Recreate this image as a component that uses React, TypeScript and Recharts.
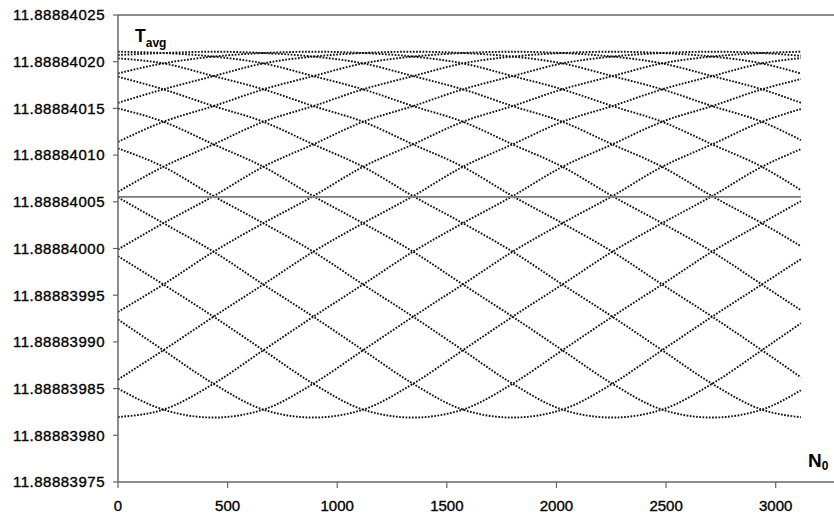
import { Line, LineChart, ReferenceLine, XAxis, YAxis } from "recharts";

// N0 positions where the curves were read (lattice columns of the crossings)
const N0 = [0, 207, 436, 663, 891, 1118, 1346, 1573, 1800, 2027, 2255, 2482, 2710, 2937, 3115];

// T_avg of each curve, in units of 1e-8 above 11.888839
const T01 = [121.07, 120.93, 120.55, 119.82, 118.46, 117.04, 115.25, 113.57, 111.15, 108.75, 105.61, 102.71, 99.66, 96.15, 93.39];
const T02 = [120.36, 119.82, 118.46, 117.04, 115.25, 113.57, 111.15, 108.75, 105.61, 102.71, 99.66, 96.15, 92.7, 89.11, 86.21];
const T03 = [118.39, 117.04, 115.25, 113.57, 111.15, 108.75, 105.61, 102.71, 99.66, 96.15, 92.7, 89.11, 85.52, 82.75, 81.93];
const T04 = [115.0, 113.57, 111.15, 108.75, 105.61, 102.71, 99.66, 96.15, 92.7, 89.11, 85.52, 82.75, 81.9, 82.75, 84.82];
const T05 = [110.72, 108.75, 105.61, 102.71, 99.66, 96.15, 92.7, 89.11, 85.52, 82.75, 81.9, 82.75, 85.52, 89.11, 92.0];
const T06 = [105.47, 102.71, 99.66, 96.15, 92.7, 89.11, 85.52, 82.75, 81.9, 82.75, 85.52, 89.11, 92.7, 96.15, 98.86];
const T07 = [99.18, 96.15, 92.7, 89.11, 85.52, 82.75, 81.9, 82.75, 85.52, 89.11, 92.7, 96.15, 99.66, 102.71, 105.07];
const T08 = [92.4, 89.11, 85.52, 82.75, 81.9, 82.75, 85.52, 89.11, 92.7, 96.15, 99.66, 102.71, 105.61, 108.75, 110.64];
const T09 = [85.0, 82.75, 81.9, 82.75, 85.52, 89.11, 92.7, 96.15, 99.66, 102.71, 105.61, 108.75, 111.15, 113.57, 114.93];
const T10 = [81.96, 82.75, 85.52, 89.11, 92.7, 96.15, 99.66, 102.71, 105.61, 108.75, 111.15, 113.57, 115.25, 117.04, 118.14];
const T11 = [85.97, 89.11, 92.7, 96.15, 99.66, 102.71, 105.61, 108.75, 111.15, 113.57, 115.25, 117.04, 118.46, 119.82, 120.39];
const T12 = [93.21, 96.15, 99.66, 102.71, 105.61, 108.75, 111.15, 113.57, 115.25, 117.04, 118.46, 119.82, 120.55, 120.93, 121.07];
const T13 = [99.9, 102.71, 105.61, 108.75, 111.15, 113.57, 115.25, 117.04, 118.46, 119.82, 120.55, 120.93, 121.07, 120.93, 120.63];
const T14 = [106.07, 108.75, 111.15, 113.57, 115.25, 117.04, 118.46, 119.82, 120.55, 120.93, 121.07, 120.93, 120.55, 119.82, 118.73];
const T15 = [111.42, 113.57, 115.25, 117.04, 118.46, 119.82, 120.55, 120.93, 121.07, 120.93, 120.55, 119.82, 118.46, 117.04, 115.6];
const T16 = [115.6, 117.04, 118.46, 119.82, 120.55, 120.93, 121.07, 120.93, 120.55, 119.82, 118.46, 117.04, 115.25, 113.57, 111.61];
const T17 = [118.75, 119.82, 120.55, 120.93, 121.07, 120.93, 120.55, 119.82, 118.46, 117.04, 115.25, 113.57, 111.15, 108.75, 106.25];
const T18 = [120.71, 120.93, 121.07, 120.93, 120.55, 119.82, 118.46, 117.04, 115.25, 113.57, 111.15, 108.75, 105.61, 102.71, 100.25];

const CURVES = [T01, T02, T03, T04, T05, T06, T07, T08, T09, T10, T11, T12, T13, T14, T15, T16, T17, T18];

// the solid horizontal line
const MEAN_N0 = [0, 3115];
const MEAN_T = [105.53, 105.53];

const X_TICKS = [0, 500, 1000, 1500, 2000, 2500, 3000];
const Y_TICKS = [75, 80, 85, 90, 95, 100, 105, 110, 115, 120, 125];
const Y_TICK_LABELS = [
  "11.88883975",
  "11.88883980",
  "11.88883985",
  "11.88883990",
  "11.88883995",
  "11.88884000",
  "11.88884005",
  "11.88884010",
  "11.88884015",
  "11.88884020",
  "11.88884025",
];

const FONT = '"Liberation Sans", Arial, sans-serif';
const AXIS = "#666";
const TICK_TEXT = { fill: "#000", stroke: "#000", strokeWidth: 0.35, fontSize: 15, fontFamily: FONT };

export default function App() {
  const meanData = MEAN_N0.map((n, i) => ({ n, t: MEAN_T[i] }));

  return (
    <div style={{ position: "absolute", left: 0, top: 0, width: 834, height: 519, background: "#fff", fontFamily: FONT }}>
      <LineChart width={834} height={519} margin={{ top: 15, right: 0, bottom: 0, left: 0 }}>
        <XAxis
          type="number"
          dataKey="n"
          domain={[0, 3266]}
          ticks={X_TICKS}
          interval={0}
          allowDataOverflow
          height={37}
          tickSize={6}
          tickMargin={12}
          axisLine={{ stroke: AXIS, strokeWidth: 1.5 }}
          tickLine={{ stroke: AXIS, strokeWidth: 1.2 }}
          tick={TICK_TEXT}
        />
        <YAxis
          type="number"
          domain={[75, 125]}
          ticks={Y_TICKS}
          interval={0}
          width={118}
          tickSize={5}
          tickMargin={8}
          axisLine={{ stroke: AXIS, strokeWidth: 1.5 }}
          tickLine={{ stroke: AXIS, strokeWidth: 1.2 }}
          tick={{ ...TICK_TEXT, letterSpacing: 0.5 }}
          tickFormatter={(v: number) => Y_TICK_LABELS[Y_TICKS.indexOf(v)]}
        />
        <ReferenceLine y={125} stroke={AXIS} strokeWidth={1.5} />
        {CURVES.map((vals, i) => (
          <Line
            key={i}
            data={N0.map((n, j) => ({ n, t: vals[j] }))}
            dataKey="t"
            type="monotone"
            stroke="#111"
            strokeWidth={1.9}
            strokeDasharray="1.7 1.5"
            dot={false}
            activeDot={false}
            isAnimationActive={false}
          />
        ))}
        <Line
          data={meanData}
          dataKey="t"
          type="linear"
          stroke="#7a7a7a"
          strokeWidth={1.6}
          dot={false}
          activeDot={false}
          isAnimationActive={false}
        />
      </LineChart>
      <svg width={834} height={519} style={{ position: "absolute", left: 0, top: 0, pointerEvents: "none" }}>
        <text x={135} y={42} fontFamily={FONT} fontWeight="bold" fontSize={17.5} fill="#000">
          T
          <tspan fontSize={12} dy={5}>avg</tspan>
        </text>
        <text x={808} y={467} fontFamily={FONT} fontWeight="bold" fontSize={19} fill="#000">
          N
          <tspan fontSize={12} dy={3}>0</tspan>
        </text>
      </svg>
    </div>
  );
}
